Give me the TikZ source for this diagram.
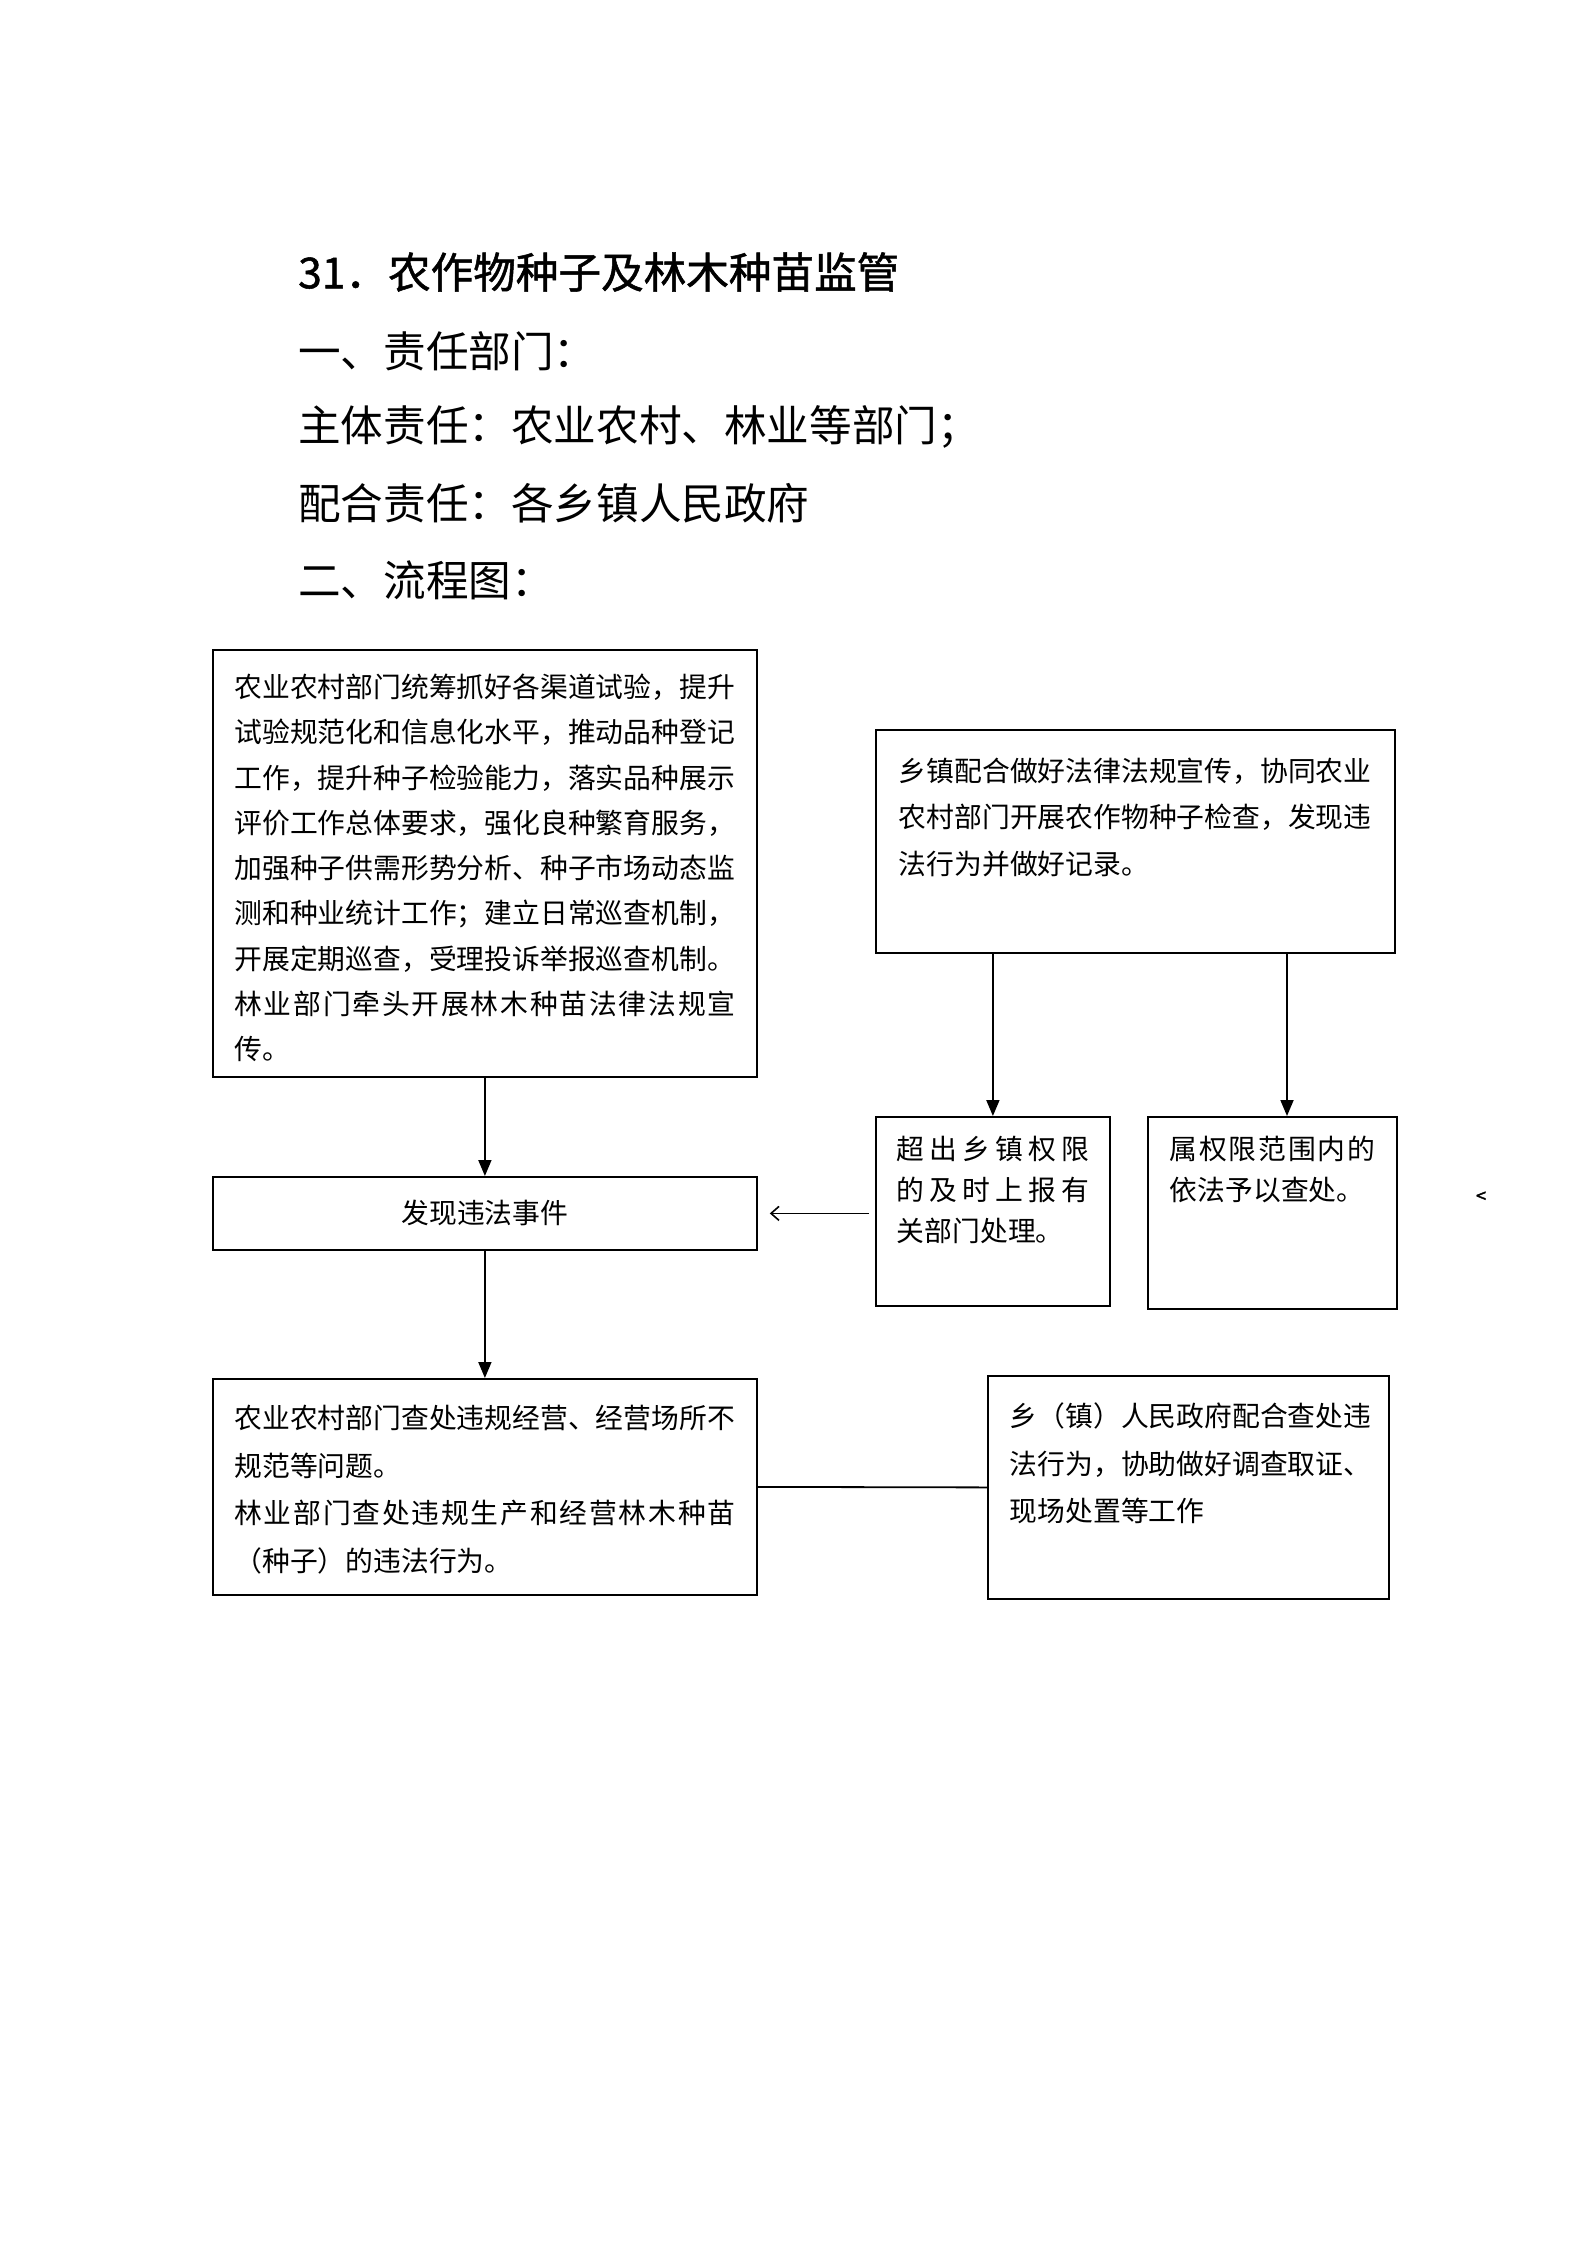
\documentclass[tikz,border=0pt]{standalone}
\usepackage{fontspec}
\setmainfont{Noto Sans CJK SC}
\newfontfamily\titlefont{Noto Sans CJK SC}[FakeBold=1.2]
\newfontfamily\markfont{Noto Sans CJK SC}[FakeBold=2]
\usetikzlibrary{arrows.meta, positioning}

% box text: width, height, x padding, y padding, lines
\newcommand{\boxtext}[5]{\parbox[c][#2pt][t]{#1pt}{\vspace*{#4pt}\hspace*{#3pt}\parbox[t]{\dimexpr #1pt-#3pt-#3pt\relax}{#5}}}
\newcommand{\spreadline}[1]{\makebox[\linewidth][s]{#1}}

\begin{document}
\begin{tikzpicture}[x=1pt, y=-1pt,
    head/.style={anchor=west, inner sep=0pt, font=\fontsize{42.6}{42.6}\selectfont},
    pbox/.style={draw, line width=1.8pt, inner sep=0pt, anchor=north west},
    arr/.style={-{Triangle[length=16pt, width=13pt]}, line width=1.8pt},
    larr/.style={-{Straight Barb[length=8pt, width=14pt]}, line width=1.6pt}
  ]
  \useasboundingbox (0,0) rectangle (1587,2245);

  % headings
  \node[head, font=\titlefont\fontsize{42.6}{42.6}\selectfont] (title) at (298,272) {31．农作物种子及林木种苗监管};
  \node[head] (dept) at (298,351) {一、责任部门：};
  \node[head] (lead) at (298,427) {主体责任：农业农村、林业等部门；};
  \node[head] (coop) at (298,503) {配合责任：各乡镇人民政府};
  \node[head] (flow) at (298,580) {二、流程图：};

  % left column
  \node[pbox, font=\fontsize{27.8}{45.3}\selectfont] (plan) at (212,649)
    {\boxtext{544}{427}{21.5}{24}{农业农村部门统筹抓好各渠道试验，提升\\试验规范化和信息化水平，推动品种登记\\工作，提升种子检验能力，落实品种展示\\评价工作总体要求，强化良种繁育服务，\\加强种子供需形势分析、种子市场动态监\\测和种业统计工作；建立日常巡查机制，\\开展定期巡查，受理投诉举报巡查机制。\\\spreadline{林\hfill 业\hfill 部\hfill 门\hfill 牵\hfill 头\hfill 开\hfill 展\hfill 林\hfill 木\hfill 种\hfill 苗\hfill 法\hfill 律\hfill 法\hfill 规\hfill 宣}\\传。}};
  \node[pbox, minimum width=544pt, minimum height=73pt, font=\fontsize{27.8}{27.8}\selectfont] (found) at (212,1176) {发现违法事件};
  \node[pbox, font=\fontsize{27.8}{47.7}\selectfont] (punish) at (212,1378)
    {\boxtext{544}{216}{21.5}{26}{农业农村部门查处违规经营、经营场所不\\规范等问题。\\\spreadline{林\hfill 业\hfill 部\hfill 门\hfill 查\hfill 处\hfill 违\hfill 规\hfill 生\hfill 产\hfill 和\hfill 经\hfill 营\hfill 林\hfill 木\hfill 种\hfill 苗}\\（种子）的违法行为。}};

  % right column
  \node[pbox, font=\fontsize{27.8}{46.5}\selectfont] (town) at (875,729)
    {\boxtext{519}{223}{23}{28}{乡镇配合做好法律法规宣传，协同农业\\农村部门开展农作物种子检查，发现违\\法行为并做好记录。}};
  \node[pbox, font=\fontsize{27.8}{41.3}\selectfont] (report) at (875,1116)
    {\boxtext{234}{189}{21}{19}{\spreadline{超\hfill 出\hfill 乡\hfill 镇\hfill 权\hfill 限}\\\spreadline{的\hfill 及\hfill 时\hfill 上\hfill 报\hfill 有}\\关部门处理。}};
  \node[pbox, font=\fontsize{27.8}{41.3}\selectfont] (handle) at (1147,1116)
    {\boxtext{249}{192}{22}{19}{\spreadline{属\hfill 权\hfill 限\hfill 范\hfill 围\hfill 内\hfill 的}\\依法予以查处。}};
  \node[pbox, font=\fontsize{27.8}{47.3}\selectfont] (assist) at (987,1375)
    {\boxtext{401}{223}{22}{27}{乡（镇）人民政府配合查处违\\法行为，协助做好调查取证、\\现场处置等工作}};
  \node[inner sep=0pt, font=\markfont\fontsize{18}{18}\selectfont] (stray) at (1481,1197) {<};

  \coordinate (rx) at (1287,0);
  \draw[arr] (plan) -- (found);
  \draw[arr] (found) -- (punish);
  \draw[arr] (town.south -| report.north) -- (report.north);
  \draw[arr] (town.south -| rx) -- (handle.north -| rx);
  \draw[larr, shorten <=6pt, shorten >=12pt] (report.west |- found.east) -- (found.east);
  \draw[line width=1.8pt] (punish.east) -- (assist.west);
\end{tikzpicture}
\end{document}
